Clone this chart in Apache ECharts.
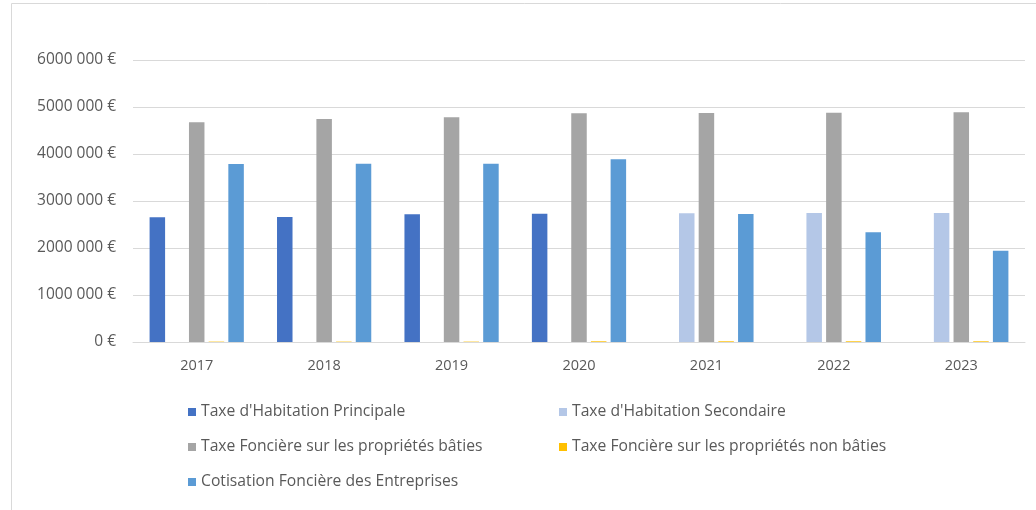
<!DOCTYPE html>
<html>
<head>
<meta charset="utf-8">
<script src="https://cdn.jsdelivr.net/npm/echarts@6/dist/echarts.min.js"></script>
<style>
html,body{margin:0;padding:0;background:#fff;}
#chart{width:1036px;height:510px;}
</style>
</head>
<body>
<div id="chart"></div>
<script>
const categories = ['2017','2018','2019','2020','2021','2022','2023'];
const seriesNames = [
  "Taxe d'Habitation Principale",
  "Taxe d'Habitation Secondaire",
  "Taxe Foncière sur les propriétés bâties",
  "Taxe Foncière sur les propriétés non bâties",
  "Cotisation Foncière des Entreprises"
];
const thPrincipale = [2653000, 2660000, 2720000, 2730000, null, null, null];
const thSecondaire = [null, null, null, null, 2738000, 2745000, 2745000];
const tfBaties = [4674000, 4745000, 4780000, 4868000, 4872000, 4879000, 4887000];
const tfNonBaties = [8000, 8000, 8000, 15000, 15000, 15000, 15000];
const cfe = [3787000, 3790000, 3790000, 3890000, 2723000, 2334000, 1943000];
const yTicks = [0, 1000000, 2000000, 3000000, 4000000, 5000000, 6000000];

const colors = ['#4472C4', '#B4C7E7', '#A5A5A5', '#FFC000', '#5B9BD5'];
const values = [thPrincipale, thSecondaire, tfBaties, tfNonBaties, cfe];
const font = '"Open Sans", Arial, sans-serif';

const chart = echarts.init(document.getElementById('chart'));
const legendPos = [
  {left: 183, top: 399},
  {left: 554, top: 399},
  {left: 183, top: 434},
  {left: 554, top: 434},
  {left: 183, top: 469}
];
chart.setOption({
  animation: false,
  color: colors,
  graphic: [{
    type: 'polyline',
    shape: {points: [[11.5, 520], [11.5, 3.5], [1040, 3.5]]},
    style: {stroke: '#D9D9D9', fill: null, lineWidth: 1}
  }],
  grid: {left: 133, right: 11, top: 60, bottom: 168},
  legend: seriesNames.map((n, i) => ({
    data: [n],
    left: legendPos[i].left,
    top: legendPos[i].top,
    icon: 'rect',
    itemWidth: 8,
    itemHeight: 8,
    itemGap: 5,
    selectedMode: false,
    textStyle: {color: '#595959', fontSize: 15.7, fontFamily: font}
  })),
  xAxis: {
    type: 'category',
    data: categories,
    axisLine: {lineStyle: {color: '#D9D9D9'}},
    axisTick: {show: false},
    axisLabel: {color: '#595959', fontSize: 14.5, fontFamily: font, margin: 16}
  },
  yAxis: {
    type: 'value',
    min: yTicks[0],
    max: yTicks[yTicks.length - 1],
    interval: 1000000,
    splitLine: {lineStyle: {color: '#D9D9D9'}},
    axisLine: {show: false},
    axisTick: {show: false},
    axisLabel: {
      color: '#595959', fontSize: 15.5, fontFamily: font, margin: 17,
      formatter: v => v === 0 ? '0 €' : (v / 1000) + ' 000 €'
    }
  },
  series: seriesNames.map((n, i) => ({
    name: n,
    type: 'bar',
    data: values[i],
    barWidth: 15.5,
    barGap: '27%',
    itemStyle: {color: colors[i]}
  }))
});
</script>
</body>
</html>
